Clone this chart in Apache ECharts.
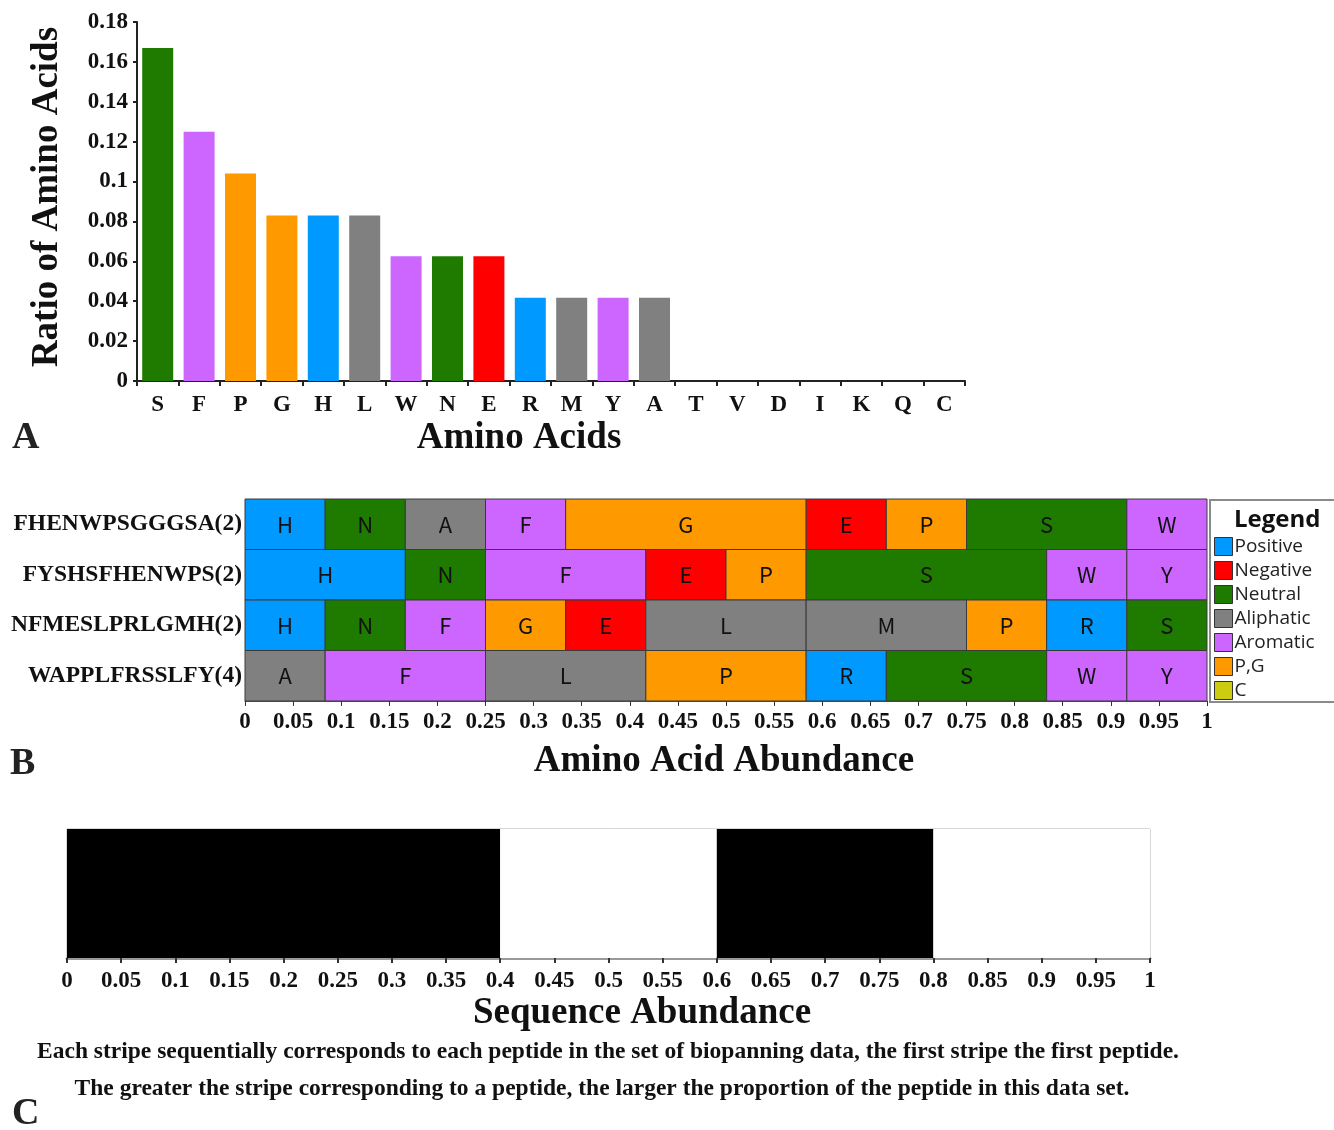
<!DOCTYPE html>
<html>
<head>
<meta charset="utf-8">
<script src="https://cdn.jsdelivr.net/npm/echarts@6/dist/echarts.min.js"></script>
<style>
  html, body { margin: 0; padding: 0; background: #fff; }
  #chart { width: 1334px; height: 1130px; }
</style>
</head>
<body>
<div id="chart"></div>
<script>
// ── Panel A: amino acid ratios ──
const aminoAcids = ['S', 'F', 'P', 'G', 'H', 'L', 'W', 'N', 'E', 'R', 'M', 'Y', 'A', 'T', 'V', 'D', 'I', 'K', 'Q', 'C'];
const aminoRatios = [0.167, 0.125, 0.104, 0.083, 0.083, 0.083, 0.0625, 0.0625, 0.0625, 0.0417, 0.0417, 0.0417, 0.0417, 0, 0, 0, 0, 0, 0, 0];
const aminoClasses = ['Neutral', 'Aromatic', 'P,G', 'P,G', 'Positive', 'Aliphatic', 'Aromatic', 'Neutral', 'Negative',
  'Positive', 'Aliphatic', 'Aromatic', 'Aliphatic', 'Neutral', 'Aliphatic', 'Negative', 'Aliphatic', 'Positive', 'Neutral', 'C'];

// ── Panel B: residue composition per peptide (counts out of 12) ──
const peptides = ['FHENWPSGGGSA(2)', 'FYSHSFHENWPS(2)', 'NFMESLPRLGMH(2)', 'WAPPLFRSSLFY(4)'];
const peptideResidues = [
  ['H', 'N', 'A', 'F', 'G', 'E', 'P', 'S', 'W'],
  ['H', 'N', 'F', 'E', 'P', 'S', 'W', 'Y'],
  ['H', 'N', 'F', 'G', 'E', 'L', 'M', 'P', 'R', 'S'],
  ['A', 'F', 'L', 'P', 'R', 'S', 'W', 'Y'],
];
const peptideCounts = [
  [1, 1, 1, 1, 3, 1, 1, 2, 1],
  [2, 1, 2, 1, 1, 3, 1, 1],
  [1, 1, 1, 1, 1, 2, 2, 1, 1, 1],
  [1, 2, 2, 2, 1, 2, 1, 1],
];
const abundanceTicks = { min: 0, max: 1, interval: 0.05 };

// ── Panel C: sequence abundance stripes ──
const stripeShares = [0.4, 0.2, 0.2, 0.2];

// ── Styles ──
const CLASS_NAMES = ['Positive', 'Negative', 'Neutral', 'Aliphatic', 'Aromatic', 'P,G', 'C'];
const CLASS_COLORS = {
  'Positive': '#0099FF', 'Negative': '#FF0000', 'Neutral': '#1E7B00', 'Aliphatic': '#808080',
  'Aromatic': '#CC66FF', 'P,G': '#FF9900', 'C': '#CCCC11',
};
const RESIDUE_CLASS = {};
aminoAcids.forEach((a, i) => { RESIDUE_CLASS[a] = aminoClasses[i]; });
const STRIPE_COLORS = ['#000000', '#ffffff'];
const SERIF = '"Liberation Serif", "Times New Roman", serif';
const SANS = '"Open Sans", "Noto Sans", sans-serif';
const NARROW = '"Noto Sans CJK SC", "Roboto", sans-serif';

// build cell rows for panel B
const cells = [];
peptideResidues.forEach((res, row) => {
  const total = peptideCounts[row].reduce((a, b) => a + b, 0);
  let acc = 0;
  res.forEach((r, k) => {
    const start = acc / total;
    acc += peptideCounts[row][k];
    cells.push([start, acc / total, row, r]);
  });
});

// build stripes for panel C
const stripes = [];
let pos = 0;
stripeShares.forEach((s, i) => { stripes.push([pos, pos + s, 0, i]); pos += s; });

const chart = echarts.init(document.getElementById('chart'), null, { renderer: 'canvas' });

const boldLabel = (size) => ({ fontFamily: SERIF, fontWeight: 'bold', fontSize: size, color: '#111' });
const title = (text, x, y, size) => ({
  type: 'text', x, y, z: 100,
  style: { text, font: `bold ${size}px ${SERIF}`, fill: '#111', align: 'center', verticalAlign: 'middle' },
});

chart.setOption({
  animation: false,
  backgroundColor: '#fff',
  grid: [
    { left: 137, top: 22, width: 828, height: 359 },
    { left: 245, top: 499, width: 962, height: 202 },
    { left: 67, top: 829, width: 1083, height: 129, show: true, borderColor: '#b0b0b0', borderWidth: 1 },
  ],
  xAxis: [
    {
      gridIndex: 0, type: 'category', data: aminoAcids,
      axisLine: { lineStyle: { color: '#222', width: 2 } },
      axisTick: { show: true, length: 5, lineStyle: { color: '#222', width: 2 } },
      axisLabel: { ...boldLabel(23), margin: 13 },
    },
    {
      gridIndex: 1, type: 'value', ...abundanceTicks,
      axisLine: { show: true, lineStyle: { color: '#555', width: 1 } },
      axisTick: { show: true, length: 5, lineStyle: { color: '#333' } },
      axisLabel: { ...boldLabel(23), margin: 10 },
      splitLine: { show: false },
    },
    {
      gridIndex: 2, type: 'value', ...abundanceTicks,
      axisLine: { show: true, lineStyle: { color: '#999', width: 3 } },
      axisTick: { show: true, length: 5, lineStyle: { color: '#333', width: 2 } },
      axisLabel: { ...boldLabel(23), margin: 12 },
      splitLine: { show: false },
    },
  ],
  yAxis: [
    {
      gridIndex: 0, type: 'value', min: 0, max: 0.18, interval: 0.02,
      axisLine: { show: true, lineStyle: { color: '#222', width: 2 } },
      axisTick: { show: true, length: 4, lineStyle: { color: '#222', width: 2 } },
      axisLabel: { ...boldLabel(23), margin: 9 },
      splitLine: { show: false },
    },
    {
      gridIndex: 1, type: 'category', data: peptides, inverse: true,
      axisLine: { show: false }, axisTick: { show: false },
      axisLabel: { ...boldLabel(23.5), margin: 3 },
    },
    {
      gridIndex: 2, type: 'category', data: [''], show: false,
    },
  ],
  legend: {
    left: 1210, top: 500, orient: 'vertical',
    padding: [37, 40, 2, 4], itemGap: 5, itemWidth: 18, itemHeight: 18,
    backgroundColor: '#fff', borderColor: '#8a8a8a', borderWidth: 2, borderRadius: 0,
    icon: 'rect',
    itemStyle: { borderColor: '#333', borderWidth: 1 },
    textStyle: { fontFamily: SANS, fontSize: 19, lineHeight: 18, color: '#222', padding: [0, 0, 0, -3] },
    data: CLASS_NAMES,
    selectedMode: false,
  },
  graphic: [
    { type: 'text', left: 1234, top: 508, z: 100, style: { text: 'Legend', font: `bold 24px ${SANS}`, fill: '#111' } },
    { ...title('Ratio of Amino Acids', 47, 197, 37), rotation: Math.PI / 2 },
    title('Amino Acids', 519, 438, 37),
    title('Amino Acid Abundance', 724, 761, 37),
    title('Sequence Abundance', 642, 1013, 37),
    title('Each stripe sequentially corresponds to each peptide in the set of biopanning data, the first stripe the first peptide.', 608, 1052, 23.5),
    title('The greater the stripe corresponding to a peptide, the larger the proportion of the peptide in this data set.', 602, 1089, 23.5),
    { type: 'text', x: 12, y: 438, z: 100, style: { text: 'A', font: `bold 38px ${SERIF}`, fill: '#222', verticalAlign: 'middle' } },
    { type: 'text', x: 10, y: 764, z: 100, style: { text: 'B', font: `bold 38px ${SERIF}`, fill: '#222', verticalAlign: 'middle' } },
    { type: 'text', x: 12, y: 1114, z: 100, style: { text: 'C', font: `bold 38px ${SERIF}`, fill: '#222', verticalAlign: 'middle' } },
  ],
  series: [
    {
      type: 'bar', xAxisIndex: 0, yAxisIndex: 0, barWidth: 31,
      data: aminoRatios.map((v, i) => ({ value: v, itemStyle: { color: CLASS_COLORS[aminoClasses[i]] } })),
    },
    {
      type: 'custom', xAxisIndex: 1, yAxisIndex: 1,
      encode: { x: [0, 1], y: 2 },
      data: cells,
      renderItem: (params, api) => {
        const row = api.value(2);
        const s = api.coord([api.value(0), row]);
        const e = api.coord([api.value(1), row]);
        const h = api.size([0, 1])[1];
        const letter = cells[params.dataIndex][3];
        return {
          type: 'rect',
          shape: { x: s[0], y: s[1] - h / 2, width: e[0] - s[0], height: h },
          style: { fill: CLASS_COLORS[RESIDUE_CLASS[letter]], stroke: '#3a3a3a', lineWidth: 1 },
          textContent: { style: { text: letter, font: `22px ${NARROW}`, fill: '#111' } },
          textConfig: { position: 'inside' },
        };
      },
    },
    ...CLASS_NAMES.map((name) => ({
      name, type: 'bar', xAxisIndex: 1, yAxisIndex: 1, data: [],
      itemStyle: { color: CLASS_COLORS[name] },
    })),
    {
      type: 'custom', xAxisIndex: 2, yAxisIndex: 2,
      encode: { x: [0, 1], y: 2 },
      data: stripes,
      renderItem: (params, api) => {
        const s = api.coord([api.value(0), 0]);
        const e = api.coord([api.value(1), 0]);
        const h = api.size([0, 1])[1];
        return {
          type: 'rect',
          shape: { x: s[0], y: s[1] - h / 2, width: e[0] - s[0], height: h },
          style: { fill: STRIPE_COLORS[api.value(3) % 2] },
        };
      },
    },
  ],
});
</script>
</body>
</html>
